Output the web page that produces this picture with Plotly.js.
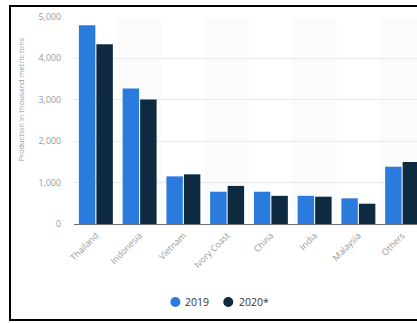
<!DOCTYPE html>
<html>
<head>
<meta charset="utf-8">
<script src="https://cdn.plot.ly/plotly-3.0.1.min.js"></script>
<style>
  html, body { margin: 0; padding: 0; background: #ffffff; overflow: hidden; width: 417px; height: 323px; }
  #chart { position: absolute; left: 0; top: 0; width: 417px; height: 323px; }
  #frame { position: absolute; left: 9px; top: 5px; width: 420px; height: 316px; border: 2px solid #000; box-sizing: border-box; pointer-events: none; }
</style>
</head>
<body>
<div id="chart"></div>
<div id="frame"></div>
<script>
const categories = ["Thailand", "Indonesia", "Vietnam", "Ivory Coast", "China", "India", "Malaysia", "Others"];
const values2019 = [4800, 3270, 1150, 780, 780, 680, 620, 1380];
const values2020 = [4340, 3010, 1200, 920, 680, 660, 490, 1500];
const seriesNames = ["2019", "2020*"];
const seriesColors = ["#2b7bdf", "#0e2a40"];
const yTickVals = [0, 1000, 2000, 3000, 4000, 5000];
const yTickText = ["0", "1,000", "2,000", "3,000", "4,000", "5,000"];
const yTitle = "Production in thousand metric tons";

const font = "'Open Sans', 'Noto Sans', sans-serif";

// plot area geometry (pixels) used to place legend / title in paper coords
const W = 417, H = 323, ML = 73.5, MR = 0, MT = 17, MB = 99;
const pw = W - ML - MR, ph = H - MT - MB;
const px = v => (v - ML) / pw;
const py = v => (H - MB - v) / ph;

const traces = [
  { type: "bar", x: categories, y: values2019, name: seriesNames[0], marker: { color: seriesColors[0] }, showlegend: false, hoverinfo: "none" },
  { type: "bar", x: categories, y: values2020, name: seriesNames[1], marker: { color: seriesColors[1] }, showlegend: false, hoverinfo: "none" }
];

const shapes = [];
categories.forEach((c, i) => {
  if (i % 2 === 1) {
    shapes.push({ type: "rect", xref: "x", yref: "paper", x0: i - 0.5, x1: i + 0.5, y0: 0, y1: 1, fillcolor: "#fbfbfb", line: { width: 0 }, layer: "below" });
  }
});

// custom legend: circle markers + text
const legendItems = [
  { cx: 175, tx: 183 },
  { cx: 228, tx: 237 }
];
const legendY = 302;
const annotations = [];
seriesNames.forEach((name, i) => {
  const it = legendItems[i];
  shapes.push({
    type: "circle", xref: "paper", yref: "paper",
    xsizemode: "pixel", ysizemode: "pixel",
    xanchor: px(it.cx), yanchor: py(legendY),
    x0: -5, x1: 5, y0: -5, y1: 5,
    fillcolor: seriesColors[i], line: { width: 0 }
  });
  annotations.push({
    xref: "paper", yref: "paper", x: px(it.tx), y: py(legendY),
    xanchor: "left", yanchor: "middle", showarrow: false,
    text: name, font: { family: font, size: 10.5, color: "#333333" }
  });
});
annotations.push({
  xref: "paper", yref: "paper", x: px(20), y: py(100),
  xanchor: "center", yanchor: "middle", showarrow: false, textangle: -90,
  text: yTitle, font: { family: font, size: 7.5, color: "#999999" }
});

const layout = {
  width: W, height: H,
  margin: { l: ML, r: MR, t: MT, b: MB, pad: 0 },
  paper_bgcolor: "#ffffff",
  plot_bgcolor: "#ffffff",
  barmode: "group",
  bargap: 0.2,
  bargroupgap: 0.06,
  font: { family: font, color: "#999999", size: 8 },
  shapes: shapes,
  annotations: annotations,
  showlegend: false,
  xaxis: {
    type: "category",
    range: [-0.5, 7.34],
    tickangle: -45,
    tickfont: { family: font, size: 8.8, color: "#999999" },
    showgrid: false,
    showline: true,
    linecolor: "#6f6f6f",
    linewidth: 1,
    ticks: "",
    ticklabelstandoff: 2,
    fixedrange: true
  },
  yaxis: {
    range: [0, 5000],
    tickvals: yTickVals,
    ticktext: yTickText,
    tickfont: { family: font, size: 8.8, color: "#999999" },
    showgrid: true,
    gridcolor: "#e9e9e9",
    gridwidth: 1,
    zeroline: false,
    showline: false,
    ticks: "",
    ticklabelstandoff: 12,
    fixedrange: true
  }
};

Plotly.newPlot("chart", traces, layout, { displayModeBar: false, staticPlot: true });
</script>
</body>
</html>
